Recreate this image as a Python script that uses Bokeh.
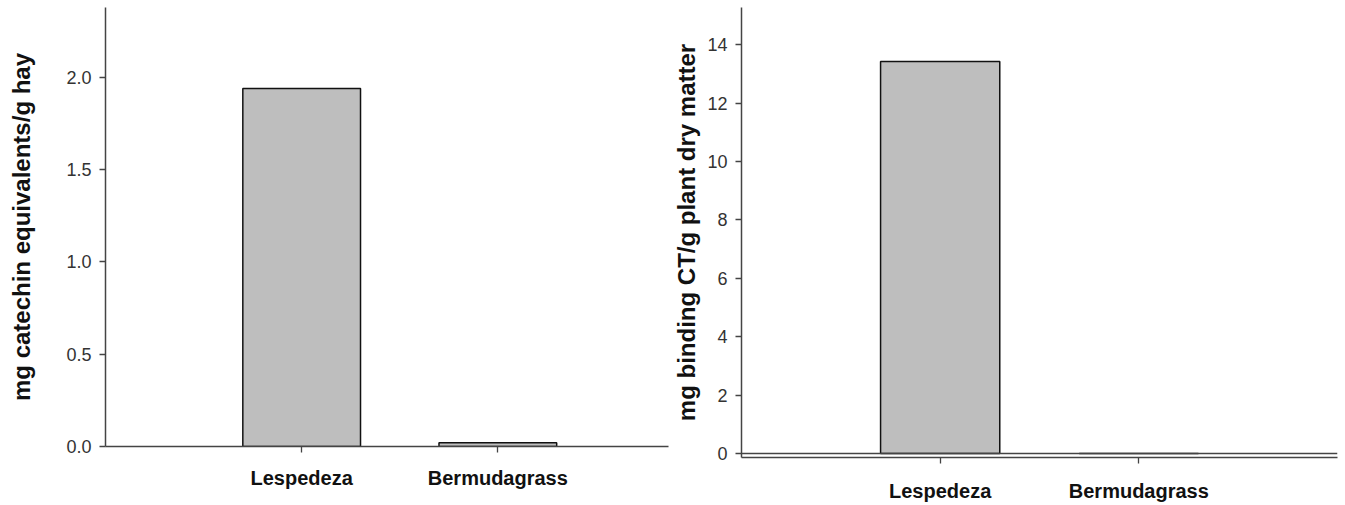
from bokeh.plotting import figure
from bokeh.layouts import row, column
from bokeh.models import FixedTicker, NumeralTickFormatter, Range1d, Span
from bokeh.embed import file_html
from bokeh.resources import INLINE

# ---- data ----
categories = ["Lespedeza", "Bermudagrass"]
catechin_values = [1.94, 0.02]          # mg catechin equivalents/g hay
binding_ct_values = [13.42, 0.0]        # mg binding CT/g plant dry matter
left_ticks = [0.0, 0.5, 1.0, 1.5, 2.0]
right_ticks = [0, 2, 4, 6, 8, 10, 12, 14]

FONT = "Liberation Sans"
AXIS_COLOR = "#444444"
BAR_FILL = "#bebebe"

xpos = [i + 1 for i in range(len(categories))]
overrides = {i + 1: c for i, c in enumerate(categories)}


def style(p, xlab_standoff):
    p.xgrid.visible = False
    p.ygrid.visible = False
    p.outline_line_color = None
    for ax in (p.xaxis[0], p.yaxis[0]):
        ax.axis_line_color = AXIS_COLOR
        ax.axis_line_width = 1.5
        ax.major_tick_line_color = AXIS_COLOR
        ax.major_tick_line_width = 1.3
        ax.major_tick_out = 6
        ax.major_tick_in = 0
        ax.minor_tick_line_color = None
    xa = p.xaxis[0]
    xa.ticker = FixedTicker(ticks=xpos)
    xa.major_label_overrides = overrides
    xa.major_label_text_font = FONT
    xa.major_label_text_font_style = "bold"
    xa.major_label_text_font_size = "20px"
    xa.major_label_text_color = "#111111"
    xa.major_label_standoff = xlab_standoff
    ya = p.yaxis[0]
    ya.major_label_text_font = FONT
    ya.major_label_text_font_size = "18px"
    ya.major_label_text_color = "#333333"
    ya.axis_label_text_font = FONT
    ya.axis_label_text_font_style = "bold"
    ya.axis_label_text_font_size = "24px"
    ya.axis_label_text_color = "#111111"


# ---- left panel ----
p1 = figure(width=670, height=505, output_backend="svg", toolbar_location=None,
            x_range=Range1d(0, 2.87), y_range=Range1d(0, 2.379),
            min_border_left=105, min_border_right=2, min_border_top=7, min_border_bottom=59)
p1.vbar(x=xpos, top=catechin_values, width=0.6, bottom=0,
        fill_color=BAR_FILL, line_color="#111111", line_width=1.5)
style(p1, 14)
p1.yaxis[0].ticker = FixedTicker(ticks=left_ticks)
p1.yaxis[0].formatter = NumeralTickFormatter(format="0.0")
p1.yaxis[0].axis_label = "mg catechin equivalents/g hay"
p1.yaxis[0].major_label_standoff = 8
p1.yaxis[0].axis_label_standoff = 28

# ---- right panel ----
p2 = figure(width=675, height=505, output_backend="svg", toolbar_location=None,
            x_range=Range1d(0, 3.0), y_range=Range1d(-0.137, 15.27),
            min_border_left=69, min_border_right=8, min_border_top=7, min_border_bottom=48)
p2.vbar(x=xpos, top=binding_ct_values, width=0.6, bottom=0,
        fill_color=BAR_FILL, line_color="#111111", line_width=1.5)
p2.add_layout(Span(location=0, dimension="width", line_color=AXIS_COLOR, line_width=1.5))
style(p2, 16)
p2.yaxis[0].ticker = FixedTicker(ticks=right_ticks)
p2.yaxis[0].axis_label = "mg binding CT/g plant dry matter"
p2.yaxis[0].major_label_standoff = 8
p2.yaxis[0].axis_label_standoff = 4

layout = row(column(p1), column(p2))
open("out.html", "w").write(file_html(layout, INLINE))
